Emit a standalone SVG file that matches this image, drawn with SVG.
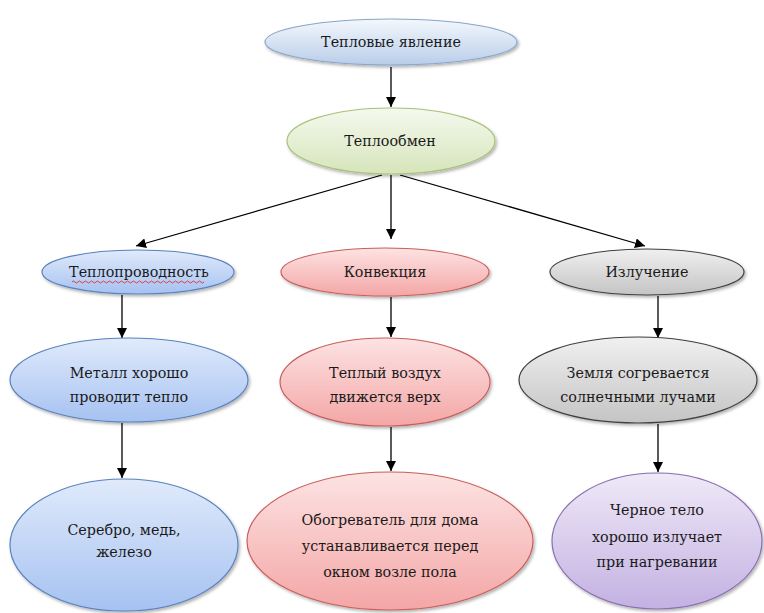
<svg xmlns="http://www.w3.org/2000/svg" width="764" height="613" viewBox="0 0 764 613">
<defs>
<linearGradient id="gBlueTop" x1="0" y1="0" x2="0" y2="1"><stop offset="0" stop-color="#f4f8fd"/><stop offset="1" stop-color="#b9cde9"/></linearGradient>
<linearGradient id="gGreen" x1="0" y1="0" x2="0" y2="1"><stop offset="0" stop-color="#f5f9ee"/><stop offset="1" stop-color="#d6e5bb"/></linearGradient>
<linearGradient id="gBlue" x1="0" y1="0" x2="0" y2="1"><stop offset="0" stop-color="#e0eafb"/><stop offset="1" stop-color="#a6c2f1"/></linearGradient>
<linearGradient id="gRed" x1="0" y1="0" x2="0" y2="1"><stop offset="0" stop-color="#fde3e3"/><stop offset="1" stop-color="#f4a6a6"/></linearGradient>
<linearGradient id="gGrey" x1="0" y1="0" x2="0" y2="1"><stop offset="0" stop-color="#f0f0f0"/><stop offset="1" stop-color="#c4c4c4"/></linearGradient>
<linearGradient id="gPurple" x1="0" y1="0" x2="0" y2="1"><stop offset="0" stop-color="#efe9f7"/><stop offset="1" stop-color="#c3b1e2"/></linearGradient>
<filter id="sh" x="-10%" y="-10%" width="125%" height="130%"><feDropShadow dx="1.5" dy="2" stdDeviation="1.5" flood-color="#000" flood-opacity="0.3"/></filter>
<marker id="arr" viewBox="0 0 10 10" refX="10" refY="5" markerWidth="10" markerHeight="10" markerUnits="userSpaceOnUse" orient="auto"><path d="M0,0 L10,5 L0,10 Z" fill="#000"/></marker>
</defs>
<style>
.t{font-size:14.3px;fill:#1a1a1a;text-anchor:middle}
.n ellipse{filter:url(#sh);stroke-width:1.2}
.c line{stroke:#000;stroke-width:1.3;marker-end:url(#arr)}
</style>
<rect width="764" height="613" fill="#fff"/>
<g class="c" id="connectors">
<line x1="391" y1="67" x2="391" y2="107"/>
<line x1="391" y1="175" x2="391" y2="239"/>
<line x1="382" y1="175" x2="136" y2="246"/>
<line x1="400" y1="175" x2="645" y2="246"/>
<line x1="122" y1="295" x2="122" y2="338"/>
<line x1="391" y1="297" x2="391" y2="337"/>
<line x1="658" y1="296" x2="658" y2="338"/>
<line x1="122" y1="423" x2="122" y2="478"/>
<line x1="391" y1="427" x2="391" y2="471"/>
<line x1="658" y1="424" x2="658" y2="472"/>
</g>
<g font-family="DejaVu Serif, serif">
<g class="n" id="n-top"><ellipse cx="391" cy="42" rx="126" ry="23" fill="url(#gBlueTop)" stroke="#8aa6cc"/><text class="t" x="391" y="47">Тепловые явление</text></g>
<g class="n" id="n-exchange"><ellipse cx="391" cy="141" rx="104" ry="33" fill="url(#gGreen)" stroke="#a9c27a"/><text class="t" x="390" y="146">Теплообмен</text></g>
<g class="n" id="n-cond"><ellipse cx="138" cy="272" rx="96" ry="22" fill="url(#gBlue)" stroke="#5a82be"/><text class="t" x="139" y="277">Теплопроводность</text><path d="M72,282 q1.5,-2 3,0 t3,0 t3,0 t3,0 t3,0 t3,0 t3,0 t3,0 t3,0 t3,0 t3,0 t3,0 t3,0 t3,0 t3,0 t3,0 t3,0 t3,0 t3,0 t3,0 t3,0 t3,0 t3,0 t3,0 t3,0 t3,0 t3,0 t3,0 t3,0 t3,0 t3,0 t3,0 t3,0 t3,0 t3,0 t3,0 t3,0 t3,0 t3,0 t3,0 t3,0 t3,0 t3,0 t3,0" fill="none" stroke="#e03030" stroke-width="0.9"/></g>
<g class="n" id="n-conv"><ellipse cx="385" cy="272" rx="104" ry="24" fill="url(#gRed)" stroke="#c8605c"/><text class="t" x="385" y="277">Конвекция</text></g>
<g class="n" id="n-rad"><ellipse cx="647" cy="272" rx="97" ry="23" fill="url(#gGrey)" stroke="#404040"/><text class="t" x="647" y="277">Излучение</text></g>
<g class="n" id="n-metal"><ellipse cx="129" cy="380" rx="119" ry="42" fill="url(#gBlue)" stroke="#5a82be"/><text class="t" x="129" y="378">Металл хорошо</text><text class="t" x="129" y="402">проводит тепло</text></g>
<g class="n" id="n-air"><ellipse cx="385" cy="382" rx="105" ry="44" fill="url(#gRed)" stroke="#c8605c"/><text class="t" x="385" y="378">Теплый воздух</text><text class="t" x="385" y="402">движется верх</text></g>
<g class="n" id="n-earth"><ellipse cx="638" cy="380" rx="119" ry="43" fill="url(#gGrey)" stroke="#404040"/><text class="t" x="638" y="378">Земля согревается</text><text class="t" x="638" y="402">солнечными лучами</text></g>
<g class="n" id="n-silver"><ellipse cx="124" cy="545" rx="114" ry="66" fill="url(#gBlue)" stroke="#5a82be"/><text class="t" x="124" y="535">Серебро, медь,</text><text class="t" x="124" y="557">железо</text></g>
<g class="n" id="n-heater"><ellipse cx="390" cy="541" rx="143" ry="69" fill="url(#gRed)" stroke="#c8605c"/><text class="t" x="390" y="525">Обогреватель для дома</text><text class="t" x="390" y="551">устанавливается перед</text><text class="t" x="390" y="577">окном возле пола</text></g>
<g class="n" id="n-black"><ellipse cx="657" cy="541" rx="105" ry="68" fill="url(#gPurple)" stroke="#8a70b0"/><text class="t" x="657" y="515">Черное тело</text><text class="t" x="657" y="542">хорошо излучает</text><text class="t" x="657" y="567">при нагревании</text></g>
</g>
</svg>
